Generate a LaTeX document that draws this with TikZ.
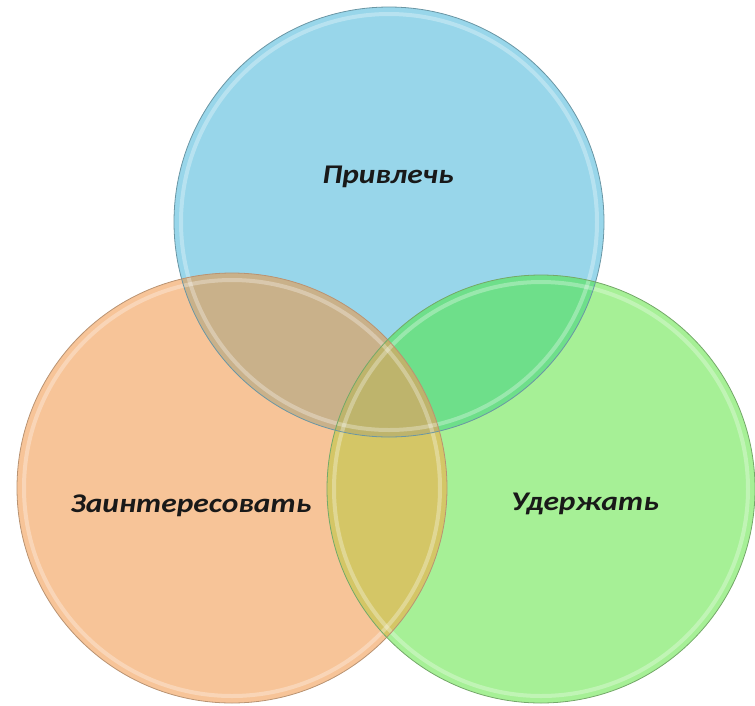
\documentclass[tikz,border=0pt]{standalone}
\usepackage{fontspec}
\setmainfont{Carlito}
\newcommand{\wide}[1]{\scalebox{1.165}[1]{#1}}
\begin{document}
\begin{tikzpicture}[x=1pt,y=-1pt,
  lbl/.style={font=\bfseries\itshape\fontsize{27}{30}\selectfont, text=black!90, inner sep=0pt, anchor=base},
  rimline/.style={line width=0.8pt},
  glow/.style={line width=4pt, draw=white, draw opacity=0.3}]
\useasboundingbox (0,0) rectangle (755,705);
\definecolor{cblue}{RGB}{152,214,234}
\definecolor{corange}{RGB}{247,196,152}
\definecolor{cgreen}{RGB}{166,240,150}
\definecolor{cbo}{RGB}{201,177,138}
\definecolor{cbg}{RGB}{110,223,138}
\definecolor{cog}{RGB}{212,198,102}
\definecolor{cbog}{RGB}{190,180,108}
\def\cB{(389,222) circle (215)}
\def\cO{(232,488) circle (215)}
\def\cG{(541,489) circle (214)}
% base fills
\fill[cblue] \cB;
\fill[corange] \cO;
\fill[cgreen] \cG;
% pairwise overlaps
\begin{scope}\clip \cB; \fill[cbo] \cO; \end{scope}
\begin{scope}\clip \cB; \fill[cbg] \cG; \end{scope}
\begin{scope}\clip \cO; \fill[cog] \cG; \end{scope}
\begin{scope}\clip \cB; \clip \cO; \fill[cbog] \cG; \end{scope}
% glossy rims
\draw[glow] (389,222) circle (208);
\draw[glow] (232,488) circle (208);
\draw[glow] (541,489) circle (207);
\draw[rimline, draw=cblue!70!black] \cB;
\draw[rimline, draw=corange!75!black] \cO;
\draw[rimline, draw=cgreen!70!black] \cG;
% labels
\node[lbl] (t1) at (388,183) {\wide{Привлечь}};
\node[lbl] (t2) at (191,512) {\wide{Заинтересовать}};
\node[lbl] (t3) at (585,510) {\wide{Удержать}};
\end{tikzpicture}
\end{document}
